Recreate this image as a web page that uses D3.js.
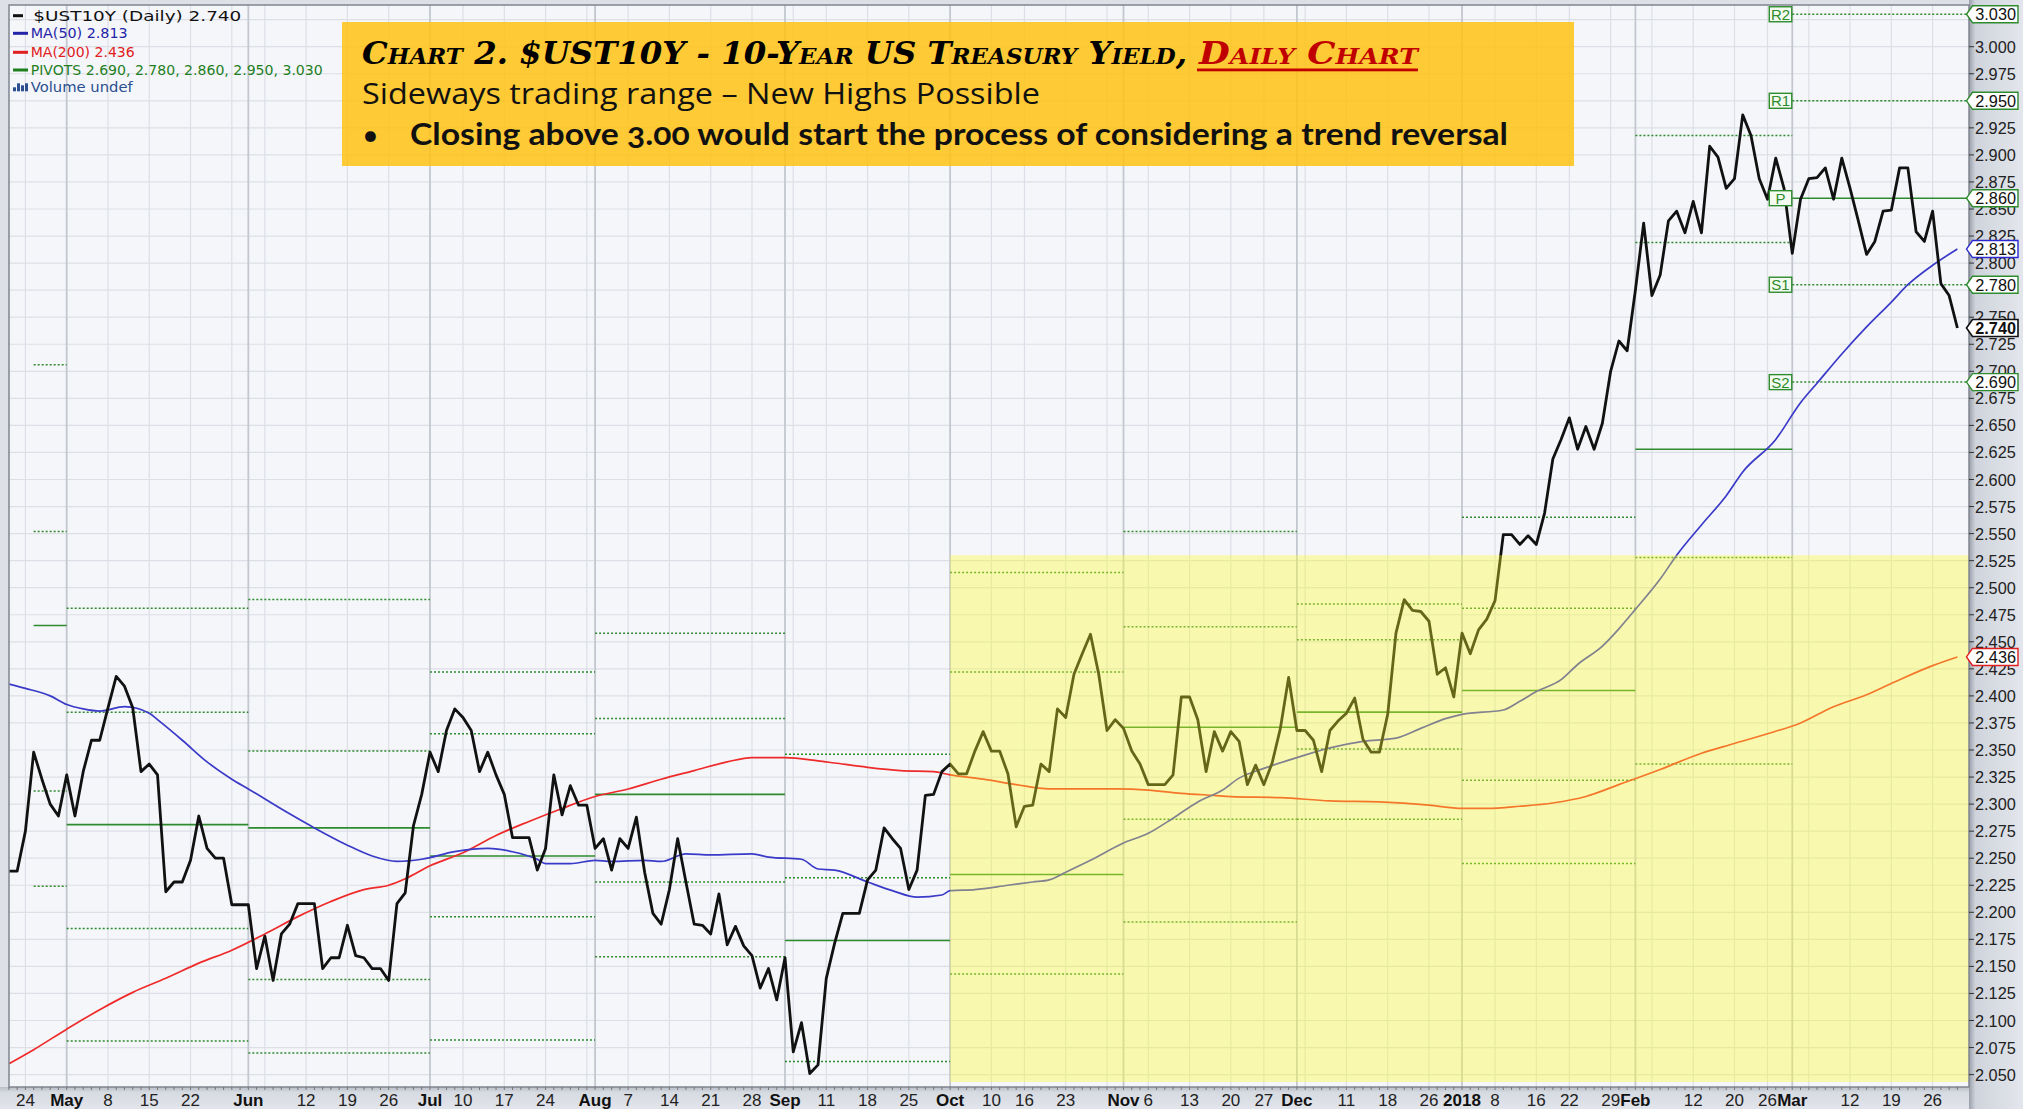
<!DOCTYPE html>
<html><head><meta charset="utf-8">
<script src="https://cdn.jsdelivr.net/npm/d3@7"></script>
<style>body{margin:0;background:#e0e4ea;overflow:hidden}</style>
</head><body>
<svg id="c" width="2023" height="1109"></svg>
<script>
// ---------- DATA ----------
const startDate = "2017-04-20", endDate = "2018-03-29";
const holidays = ["2017-05-29","2017-07-04","2017-09-04","2017-10-09","2017-11-23","2017-12-25","2018-01-01","2018-01-15","2018-02-19"];
const closes = [
2.238,2.238,2.275,2.348,2.323,2.300,2.289,2.327,2.289,2.330,
2.359,2.359,2.389,2.418,2.409,2.389,2.330,2.337,2.327,2.219,
2.228,2.228,2.248,2.289,2.259,2.250,2.250,2.207,2.207,2.207,
2.148,2.178,2.137,2.180,2.189,2.208,2.208,2.208,2.148,2.158,
2.158,2.188,2.160,2.158,2.148,2.148,2.137,2.208,2.218,2.280,
2.309,2.348,2.330,2.368,2.388,2.380,2.368,2.330,2.348,2.327,
2.309,2.269,2.269,2.269,2.239,2.259,2.327,2.290,2.317,2.299,
2.299,2.259,2.268,2.239,2.268,2.259,2.288,2.237,2.199,2.189,
2.221,2.268,2.228,2.189,2.188,2.180,2.217,2.170,2.187,2.169,
2.160,2.130,2.148,2.119,2.158,2.071,2.098,2.051,2.059,2.139,
2.171,2.199,2.199,2.199,2.230,2.239,2.278,2.268,2.259,2.221,
2.239,2.308,2.309,2.330,2.337,2.328,2.328,2.349,2.367,2.349,
2.349,2.328,2.279,2.298,2.299,2.337,2.330,2.388,2.380,2.420,
2.439,2.457,2.420,2.368,2.378,2.370,2.349,2.337,2.318,2.318,
2.318,2.327,2.399,2.399,2.378,2.330,2.367,2.349,2.367,2.358,
2.318,2.336,2.318,2.338,2.370,2.417,2.368,2.368,2.359,2.330,
2.368,2.377,2.384,2.398,2.360,2.348,2.348,2.383,2.458,2.489,
2.479,2.478,2.469,2.420,2.426,2.399,2.458,2.439,2.461,2.471,
2.488,2.549,2.549,2.540,2.548,2.540,2.569,2.619,2.637,2.657,
2.628,2.649,2.628,2.652,2.700,2.728,2.719,2.775,2.837,2.770,
2.789,2.839,2.848,2.828,2.857,2.828,2.908,2.898,2.869,2.878,
2.937,2.918,2.878,2.859,2.897,2.869,2.809,2.859,2.878,2.879,
2.888,2.859,2.897,2.869,2.839,2.808,2.820,2.848,2.849,2.888,
2.888,2.829,2.820,2.848,2.781,2.770,2.740];

// moving averages read at sample trading-day numbers
const ma50Day = [0,2,5,7,9,11,14,17,18,21,24,27,29,34,37,41,44,47,50,54,58,61,64,65,68,71,73,77,79,82,85,90,92,96,98,100,104,107,110,113,114,117,121,124,126,128,131,135,138,141,144,147,149,152,156,160,164,168,171,174,176,181,183,185,188,190,193,195,197,200,202,205,208,210,214,217,219,222,225,228,230,233,236];
const ma50Val = [2.411,2.407,2.400,2.392,2.388,2.386,2.390,2.384,2.378,2.359,2.339,2.323,2.314,2.291,2.278,2.262,2.252,2.247,2.249,2.256,2.259,2.256,2.249,2.245,2.245,2.248,2.247,2.248,2.247,2.254,2.253,2.254,2.251,2.249,2.240,2.239,2.228,2.220,2.214,2.216,2.220,2.221,2.225,2.228,2.230,2.237,2.248,2.264,2.273,2.287,2.302,2.313,2.324,2.333,2.343,2.352,2.358,2.361,2.370,2.379,2.383,2.387,2.395,2.404,2.415,2.429,2.446,2.462,2.480,2.508,2.530,2.558,2.585,2.607,2.637,2.671,2.689,2.716,2.741,2.764,2.780,2.798,2.813];
const ma200Day = [0,3,7,11,15,19,23,27,31,35,39,43,46,48,51,55,59,63,67,71,75,79,83,87,90,94,98,100,104,108,112,114,118,122,126,130,134,138,142,146,148,154,160,166,172,176,179,183,187,191,195,200,205,209,213,217,221,225,229,233,236];
const ma200Val = [2.060,2.073,2.092,2.110,2.126,2.139,2.153,2.165,2.180,2.196,2.210,2.221,2.225,2.231,2.243,2.255,2.271,2.284,2.296,2.307,2.314,2.323,2.331,2.339,2.343,2.343,2.340,2.338,2.334,2.331,2.330,2.327,2.323,2.318,2.314,2.314,2.314,2.313,2.310,2.308,2.307,2.306,2.303,2.302,2.299,2.296,2.296,2.298,2.301,2.307,2.318,2.332,2.347,2.356,2.365,2.375,2.390,2.401,2.415,2.428,2.436];

// monthly pivot levels
const pivotStart = ["2017-04-25","2017-05-01","2017-06-01","2017-07-03","2017-08-01","2017-09-01","2017-10-02","2017-11-01","2017-12-01","2018-01-02","2018-02-01","2018-03-01"];
const pivotP  = [2.465,2.281,2.278,2.252,2.309,2.174,2.235,2.371,2.385,2.405,2.628,2.860];
const pivotR1 = [2.552,2.385,2.349,2.365,2.379,2.232,2.422,2.464,2.452,2.481,2.819,2.950];
const pivotS1 = [2.312,2.185,2.138,2.196,2.228,2.062,2.143,2.286,2.351,2.322,2.528,2.780];
const pivotR2 = [2.706,2.481,2.489,2.422,2.458,2.346,2.514,2.552,2.485,2.565,2.918,3.030];
const pivotS2 = [2.224,2.081,2.070,2.082,2.159,2.002,1.956,2.191,2.286,2.245,2.337,2.690];

const monthTickDates = ["2017-05-01","2017-06-01","2017-07-03","2017-08-01","2017-09-01","2017-10-02","2017-11-01","2017-12-01","2018-01-02","2018-02-01","2018-03-01"];
const monthTickLabels = ["May","Jun","Jul","Aug","Sep","Oct","Nov","Dec","2018","Feb","Mar"];
const weekTickDates = ["2017-04-24","2017-05-08","2017-05-15","2017-05-22","2017-06-12","2017-06-19","2017-06-26","2017-07-10","2017-07-17","2017-07-24","2017-08-07","2017-08-14","2017-08-21","2017-08-28","2017-09-11","2017-09-18","2017-09-25","2017-10-10","2017-10-16","2017-10-23","2017-11-06","2017-11-13","2017-11-20","2017-11-27","2017-12-11","2017-12-18","2017-12-26","2018-01-08","2018-01-16","2018-01-22","2018-01-29","2018-02-12","2018-02-20","2018-02-26","2018-03-12","2018-03-19","2018-03-26"];
const weekTickLabels = ["24","8","15","22","12","19","26","10","17","24","7","14","21","28","11","18","25","10","16","23","6","13","20","27","11","18","26","8","16","22","29","12","20","26","12","19","26"];
const yTicks = d3.range(2.050, 3.0251, 0.025);
const highlightStart = "2017-10-02", highlightTop = 2.530;

// ---------- CALENDAR ----------
const parse = d3.utcParse("%Y-%m-%d"), fmt = d3.utcFormat("%Y-%m-%d");
const hol = new Set(holidays);
const days = [];
for (let d = parse(startDate); d <= parse(endDate); d = d3.utcDay.offset(d, 1)) {
  const w = d.getUTCDay(), s = fmt(d);
  if (w > 0 && w < 6 && !hol.has(s)) days.push(s);
}
const di = new Map(days.map((d, i) => [d, i]));

// ---------- LAYOUT ----------
const P = {l: 9, t: 5, r: 1969, b: 1087};
const x = d3.scaleLinear().domain([0, days.length - 1]).range([8.9, 1957.4]);
const y = d3.scaleLinear().domain([2.0, 3.0]).range([46.7 + 1082, 46.7]);

const svg = d3.select("#c");
const defs = svg.append("defs");
const gR = defs.append("linearGradient").attr("id", "gR");
gR.append("stop").attr("offset", "0%").attr("stop-color", "#9aa0aa");
gR.append("stop").attr("offset", "12%").attr("stop-color", "#cfd4dc");
gR.append("stop").attr("offset", "100%").attr("stop-color", "#e3e6ec");
const gB = defs.append("linearGradient").attr("id", "gB").attr("x1", 0).attr("x2", 0).attr("y1", 0).attr("y2", 1);
gB.append("stop").attr("offset", "0%").attr("stop-color", "#b9bec7");
gB.append("stop").attr("offset", "25%").attr("stop-color", "#d6dae1");
gB.append("stop").attr("offset", "100%").attr("stop-color", "#e2e5eb");
defs.append("clipPath").attr("id", "clip").append("rect")
  .attr("x", P.l).attr("y", P.t).attr("width", P.r - P.l).attr("height", P.b - P.t);

svg.append("rect").attr("width", 2023).attr("height", 1109).attr("fill", "#dde1e7");
svg.append("rect").attr("x", P.r).attr("y", 0).attr("width", 2023 - P.r).attr("height", 1109).attr("fill", "url(#gR)");
svg.append("rect").attr("x", 0).attr("y", P.b).attr("width", P.r).attr("height", 1109 - P.b).attr("fill", "url(#gB)");
svg.append("rect").attr("x", P.l).attr("y", P.t).attr("width", P.r - P.l).attr("height", P.b - P.t).attr("fill", "#f5f6fa");

const g = svg.append("g").attr("clip-path", "url(#clip)");

// horizontal grid
g.selectAll(".hg").data(yTicks).join("line")
  .attr("x1", P.l).attr("x2", P.r).attr("y1", d => y(d)).attr("y2", d => y(d))
  .attr("stroke", "#dcdfe6").attr("stroke-width", 1.2);

// vertical grid: week starts and month starts
const vlines = [];
for (let i = 1; i < days.length; i++) {
  const d = parse(days[i]), p = parse(days[i - 1]);
  const nm = d.getUTCMonth() !== p.getUTCMonth();
  const nw = d3.utcMonday.floor(d) > p;
  if (nm || nw) vlines.push({i, m: nm});
}
g.selectAll(".vg").data(vlines).join("line")
  .attr("x1", d => x(d.i)).attr("x2", d => x(d.i)).attr("y1", P.t).attr("y2", P.b)
  .attr("stroke", d => d.m ? "#c3c7cf" : "#dcdfe6").attr("stroke-width", d => d.m ? 1.8 : 1.2);

// pivots
const pivots = pivotStart.map((s, k) => ({
  a: di.get(s), b: k < pivotStart.length - 1 ? di.get(pivotStart[k + 1]) : null,
  P: pivotP[k], R1: pivotR1[k], S1: pivotS1[k], R2: pivotR2[k], S2: pivotS2[k]
}));
const px2 = d => d.b === null ? P.r : x(d.b);
pivots.forEach(d => {
  ["R2", "R1", "S1", "S2"].forEach(k => {
    g.append("line").attr("x1", x(d.a)).attr("x2", px2(d)).attr("y1", y(d[k])).attr("y2", y(d[k]))
      .attr("stroke", "#2e8b2e").attr("stroke-width", 1.5).attr("stroke-dasharray", "2,2");
  });
  g.append("line").attr("x1", x(d.a)).attr("x2", px2(d)).attr("y1", y(d.P)).attr("y2", y(d.P))
    .attr("stroke", "#2e8b2e").attr("stroke-width", 1.6);
});

// MA lines
const lineC = d3.line().x(d => x(d[0])).y(d => y(d[1])).curve(d3.curveMonotoneX);
g.append("path").attr("d", lineC(ma200Day.map((d, i) => [d, ma200Val[i]])))
  .attr("fill", "none").attr("stroke", "#ee2a2a").attr("stroke-width", 1.7);
g.append("path").attr("d", lineC(ma50Day.map((d, i) => [d, ma50Val[i]])))
  .attr("fill", "none").attr("stroke", "#3a3ac8").attr("stroke-width", 1.7);

// price line
const lineP = d3.line().x((d, i) => x(i)).y(d => y(d));
g.append("path").attr("d", lineP(closes)).attr("fill", "none").attr("stroke", "#111")
  .attr("stroke-width", 2.8).attr("stroke-linejoin", "round");

// yellow highlight (translucent overlay)
g.append("rect").attr("x", x(di.get(highlightStart))).attr("y", y(highlightTop))
  .attr("width", P.r - x(di.get(highlightStart))).attr("height", 1082 - y(highlightTop))
  .attr("fill", "#ffff2a").attr("opacity", 0.36);

// Mar pivot labels
const last = pivots[pivots.length - 1];
[["R2", last.R2], ["R1", last.R1], ["P", last.P], ["S1", last.S1], ["S2", last.S2]].forEach(([n, v]) => {
  const xr = x(last.a);
  svg.append("rect").attr("x", xr - 23).attr("y", y(v) - 7.5).attr("width", 22.5).attr("height", 15)
    .attr("fill", "#f3fbf0").attr("stroke", "#2e8b2e").attr("stroke-width", 1.4);
  svg.append("text").attr("x", xr - 11.8).attr("y", y(v) + 5.5).attr("text-anchor", "middle")
    .attr("font-family", "Liberation Sans, Arial").attr("font-size", 15).attr("fill", "#2e8b2e").text(n);
});

// border
svg.append("rect").attr("x", P.l).attr("y", P.t).attr("width", P.r - P.l).attr("height", P.b - P.t)
  .attr("fill", "none").attr("stroke", "#80858e").attr("stroke-width", 1.5);

// ---------- Y AXIS ----------
const ya = svg.append("g");
const tagVals = [last.R2, last.R1, last.P, ma50Val[ma50Val.length - 1], last.S1, closes[closes.length - 1], last.S2, ma200Val[ma200Val.length - 1]];
yTicks.forEach(v => {
  ya.append("line").attr("x1", P.r).attr("x2", P.r + 5).attr("y1", y(v)).attr("y2", y(v)).attr("stroke", "#333");
  // labels fully covered by a value tag in the reference are not drawn
  if (tagVals.some(t => Math.abs(y(t) - y(v)) < 8)) return;
  ya.append("text").attr("x", P.r + 6).attr("y", y(v) + 6).attr("font-family", "Liberation Sans, Arial")
    .attr("font-size", 16.3).attr("fill", "#222").text(v.toFixed(3));
});
function tag(v, stroke, bold) {
  const c = y(v);
  ya.append("path").attr("d", `M1966.5,${c} L1972.5,${c - 8.5} L2018,${c - 8.5} L2018,${c + 8.5} L1972.5,${c + 8.5} Z`)
    .attr("fill", "#fff").attr("stroke", stroke).attr("stroke-width", bold ? 1.6 : 1.4);
  ya.append("text").attr("x", 2016).attr("y", c + 6).attr("text-anchor", "end")
    .attr("font-family", "Liberation Sans, Arial").attr("font-size", 16.3)
    .attr("font-weight", bold ? "bold" : "normal").attr("fill", "#111").text(v.toFixed(3));
}
tag(last.R2, "#2e8b2e"); tag(last.R1, "#2e8b2e"); tag(last.P, "#2e8b2e");
tag(ma50Val[ma50Val.length - 1], "#2a2ad0"); tag(last.S1, "#2e8b2e");
tag(closes[closes.length - 1], "#111", true); tag(last.S2, "#2e8b2e");
tag(ma200Val[ma200Val.length - 1], "#e02020");

// ---------- X AXIS ----------
const xa = svg.append("g");
days.forEach((d, i) => {
  xa.append("line").attr("x1", x(i)).attr("x2", x(i)).attr("y1", P.b).attr("y2", P.b + 3).attr("stroke", "#777");
});
weekTickDates.forEach((d, k) => {
  xa.append("text").attr("x", x(di.get(d))).attr("y", 1106).attr("text-anchor", "middle")
    .attr("font-family", "Liberation Sans, Arial").attr("font-size", 17).attr("fill", "#222").text(weekTickLabels[k]);
});
monthTickDates.forEach((d, k) => {
  xa.append("text").attr("x", x(di.get(d))).attr("y", 1106).attr("text-anchor", "middle")
    .attr("font-family", "Liberation Sans, Arial").attr("font-size", 17).attr("font-weight", "bold")
    .attr("fill", "#111").text(monthTickLabels[k]);
});

// ---------- LEGEND ----------
const lg = svg.append("g").attr("font-family", "DejaVu Sans, Verdana").attr("font-size", 14);
const legend = [
  {t: "$UST10Y (Daily) " + closes[closes.length - 1].toFixed(3), c: "#111", y: 15.7, x0: 33.3, w: 208},
  {t: "MA(50) " + ma50Val[ma50Val.length - 1].toFixed(3), c: "#2424a8", y: 33.3, x0: 30.7, w: 97},
  {t: "MA(200) " + ma200Val[ma200Val.length - 1].toFixed(3), c: "#e02020", y: 52.3, x0: 30.7, w: 104},
  {t: "PIVOTS " + [last.S2, last.S1, last.P, last.R1, last.R2].map(v => v.toFixed(3)).join(", "), c: "#1f7f1f", y: 70, x0: 30.7, w: 292},
  {t: "Volume undef", c: "#2b4f8f", y: 87.3, x0: 30.7, w: 102, vol: true}
];
legend.forEach((r, k) => {
  if (r.vol) {
    [[13, 4], [17, 8], [21, 6], [25, 8]].forEach(([bx, h]) =>
      lg.append("rect").attr("x", bx).attr("y", r.y + 4 - h).attr("width", 3).attr("height", h).attr("fill", r.c));
  } else {
    lg.append("rect").attr("x", 13).attr("y", r.y - 1.5).attr("width", k === 0 ? 10 : 15).attr("height", 3).attr("fill", r.c);
  }
  lg.append("text").attr("x", r.x0).attr("y", r.y + 5).attr("fill", r.c)
    .attr("textLength", r.w).attr("lengthAdjust", "spacingAndGlyphs").text(r.t);
});

// ---------- TITLE BOX ----------
const tb = svg.append("g");
tb.append("rect").attr("x", 342).attr("y", 22).attr("width", 1232).attr("height", 144)
  .attr("fill", "#ffc214").attr("opacity", 0.86);
tb.append("text").attr("x", 362).attr("y", 64).attr("font-family", "DejaVu Serif, serif")
  .attr("font-style", "italic").attr("font-weight", "bold").attr("font-size", 31)
  .style("font-variant", "small-caps").attr("fill", "#000")
  .attr("textLength", 825).attr("lengthAdjust", "spacingAndGlyphs")
  .text("Chart 2. $UST10Y - 10-Year US Treasury Yield,");
tb.append("text").attr("x", 1199).attr("y", 64).attr("font-family", "DejaVu Serif, serif")
  .attr("font-style", "italic").attr("font-weight", "bold").attr("font-size", 31)
  .style("font-variant", "small-caps").attr("fill", "#c00000")
  .attr("textLength", 219).attr("lengthAdjust", "spacingAndGlyphs").text("Daily Chart");
tb.append("rect").attr("x", 1197).attr("y", 68.5).attr("width", 221).attr("height", 2.8).attr("fill", "#c00000");
tb.append("text").attr("x", 362).attr("y", 104).attr("font-family", "Open Sans, Lato, sans-serif")
  .attr("font-size", 29).attr("fill", "#111")
  .attr("textLength", 678).attr("lengthAdjust", "spacingAndGlyphs")
  .text("Sideways trading range \u2013 New Highs Possible");
tb.append("text").attr("x", 362).attr("y", 145).attr("font-family", "Lato, Open Sans, sans-serif")
  .attr("font-size", 29).attr("fill", "#111").text("\u2022");
tb.append("text").attr("x", 410).attr("y", 145).attr("font-family", "Lato, Open Sans, sans-serif")
  .attr("font-size", 30).attr("font-weight", "bold").attr("fill", "#111")
  .style("font-variant-numeric", "oldstyle-nums")
  .attr("textLength", 1098).attr("lengthAdjust", "spacingAndGlyphs")
  .text("Closing above 3.00 would start the process of considering a trend reversal");
</script>
</body></html>
